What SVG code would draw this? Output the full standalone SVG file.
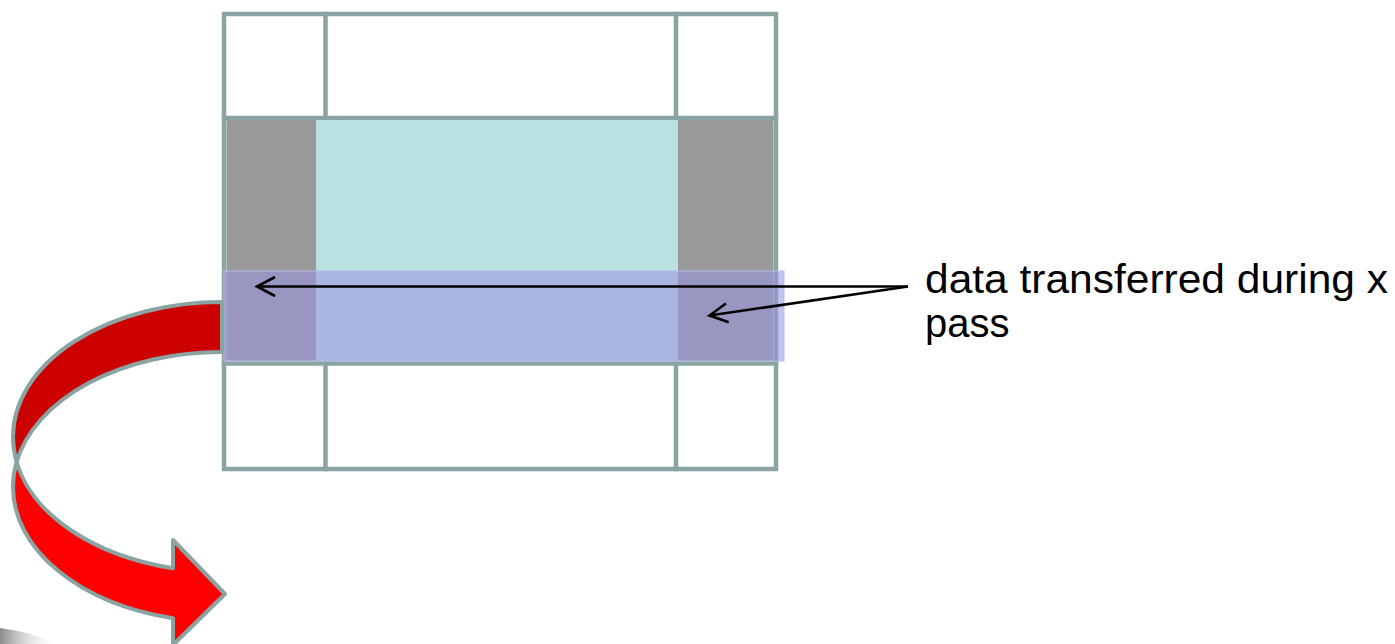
<svg xmlns="http://www.w3.org/2000/svg" width="1395" height="644" viewBox="0 0 1395 644">
<defs>
<style>
.grid{fill:none;stroke:#8AA3A3;stroke-width:4.5;stroke-linecap:square}
.gray{fill:#999999}
.cyan{fill:#BBE0E2}
.band{fill:#9A96E0;fill-opacity:0.56;stroke:#B8BCEA;stroke-width:1}
.ptr{fill:none;stroke:#000;stroke-width:2.6}
.lbl{font-family:"Liberation Sans",Arial,sans-serif;font-size:40px;fill:#000}
.curl{stroke:#8AA3A3;stroke-width:4;stroke-linejoin:round}
</style>
<marker id="open" markerUnits="userSpaceOnUse" markerWidth="40" markerHeight="40" refX="0" refY="0" orient="auto" overflow="visible">
<path d="M-18,-9.5 L0,0 L-18,9.5" fill="none" stroke="#000" stroke-width="2.6"/>
</marker>
<linearGradient id="shadow" x1="0" y1="0" x2="1" y2="0">
<stop offset="0" stop-color="#8a8a8a"/>
<stop offset="1" stop-color="#ffffff" stop-opacity="0"/>
</linearGradient>
</defs>
<rect width="1395" height="644" fill="#ffffff"/>
<path d="M0,628 Q30,632 60,644 L0,644 Z" fill="url(#shadow)"/>
<g id="grid">
<rect class="grid" x="224" y="14" width="552" height="455"/>
<line class="grid" x1="224" y1="118" x2="776" y2="118"/>
<line class="grid" x1="224" y1="363.5" x2="776" y2="363.5"/>
<line class="grid" x1="325.5" y1="14" x2="325.5" y2="118"/>
<line class="grid" x1="676" y1="14" x2="676" y2="118"/>
<line class="grid" x1="325.5" y1="363.5" x2="325.5" y2="469"/>
<line class="grid" x1="676" y1="363.5" x2="676" y2="469"/>
</g>
<g id="middle-row">
<rect class="gray" x="226.5" y="120" width="89.5" height="241"/>
<rect class="cyan" x="316" y="120" width="362" height="241"/>
<rect class="gray" x="678" y="120" width="95.5" height="241"/>
</g>
<g id="band">
<rect class="band" x="224" y="271" width="560" height="90"/>
</g>
<g id="curved-arrow">
<path class="curl" fill="#CC0000" d="M222,302 A209,135 0 0 0 13,437 A209,135 0 0 0 16.6,462 A209,135 0 0 1 222,352 Z"/>
<path class="curl" fill="#FF0000" d="M16.6,462 A209,135 0 0 0 173,568.2 L173,540 L225,594 L173,645 L173,618.2 A209,135 0 0 1 13,487 A209,135 0 0 1 16.6,462 Z"/>
</g>
<g id="connectors">
<line class="ptr" x1="908" y1="286.5" x2="257" y2="286.5" marker-end="url(#open)"/>
<line class="ptr" x1="908" y1="286.5" x2="709.5" y2="315.5" marker-end="url(#open)"/>
</g>
<g id="label">
<text class="lbl" x="925" y="293" textLength="463" lengthAdjust="spacingAndGlyphs">data transferred during x</text>
<text class="lbl" x="925" y="337">pass</text>
</g>
</svg>
